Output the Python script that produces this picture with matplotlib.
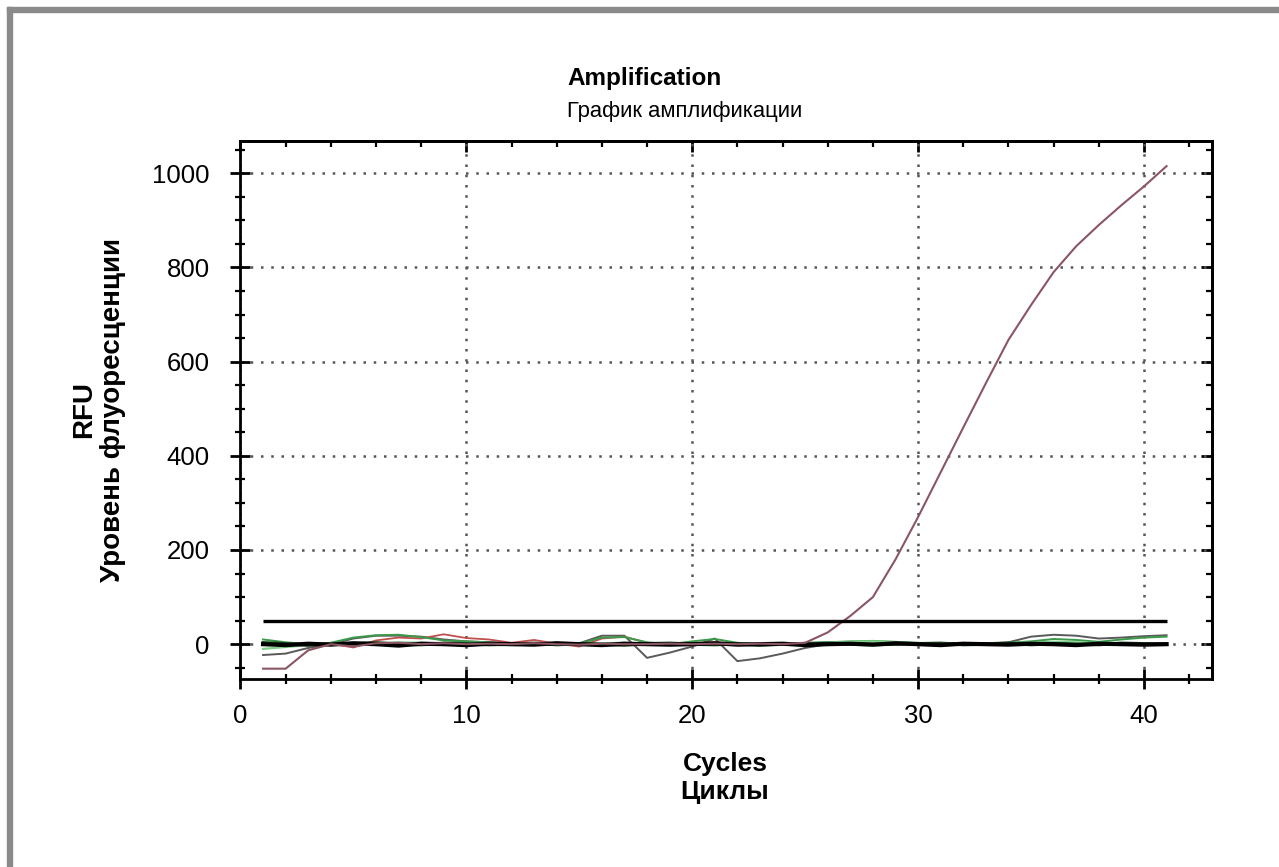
import matplotlib
matplotlib.use("Agg")
import matplotlib.pyplot as plt
from matplotlib.patches import Rectangle
from matplotlib.ticker import MultipleLocator

plt.rcParams["font.family"] = ["Liberation Sans", "DejaVu Sans"]

# data
cycles = list(range(1, 42))
threshold = 50

positive = [-52, -52, -13, 0, -5, 2, 3, 0, 2, 0, 1, 0, 2, 0, -1, 1, 0, 0, 1, 0,
            1, 0, 1, 0, 3, 25, 60, 100, 180, 270, 365, 460, 554, 646, 720, 790,
            845, 890, 932, 972, 1015]
noise_gray = [-23, -20, -8, 0, 12, 18, 18, 16, 10, 6, 4, 2, 1, 0, 2, 18, 18, -29,
              -18, -5, 12, -36, -30, -20, -8, 0, 2, 3, 2, 0, 1, 0, 2, 4, 16, 20,
              18, 12, 14, 17, 19]
noise_green = [10, 4, 0, 3, 14, 19, 20, 15, 8, 6, 4, 1, 2, -1, 1, 14, 15, 4, 0, 6,
               11, 3, 0, 1, 3, 4, 6, 7, 5, 3, 1, 2, 0, 3, 6, 11, 9, 5, 10, 14, 16]
noise_red = [2, -2, -3, 1, -7, 8, 14, 12, 21, 13, 10, 3, 9, 1, -5, 12, 16, 3, 1, 2,
             4, 1, 0, 2, 1, 0, 1, 2, 1, 0, 2, 1, 0, 1, 2, 3, 2, 1, 0, 1, 2]
base_a = [0, -2, 1, -1, 2, 0, -3, 1, 0, -2, 1, 0, -1, 2, 0, -2, 1, 0, -1, 0, 2,
          -1, 0, 1, -2, 0, 1, -1, 2, 0, -2, 1, 0, -1, 1, 0, -2, 1, 0, -1, 0]
base_b = [3, 1, -2, 0, 1, 3, 0, -1, 2, 1, -1, 0, 2, -1, 1, 0, -2, 1, 2, 0, -1,
          1, -2, 0, 1, 2, 0, -1, 0, 1, 2, -1, 0, 2, -1, 1, 0, -1, 2, 1, 0]
base_c = [-10, -6, -2, 1, 0, 2, 4, 3, 1, 2, 0, -2, 0, 1, -1, 2, 3, 1, -1, 0, 1,
          2, 0, -1, 1, 3, 5, 6, 4, 2, 0, -1, 1, 2, 3, 5, 4, 2, 1, 0, -1]

fig = plt.figure(figsize=(12.79, 8.67), dpi=100)
ax = fig.add_axes([0.188, 0.2168, 0.7594, 0.6209])
ax.set_axisbelow(True)

# gray frame of the screenshot
fig.patches.append(Rectangle((7 / 1279, 0), 5 / 1279, 1 - 7 / 867,
                             transform=fig.transFigure, color="#8a8a8a"))
fig.patches.append(Rectangle((7 / 1279, 1 - 12 / 867), 1, 5 / 867,
                             transform=fig.transFigure, color="#8a8a8a"))

ax.plot(cycles, noise_gray, color="#5a5a5a", lw=1.4)
ax.plot(cycles, noise_red, color="#c0504d", lw=1.3)
ax.plot(cycles, noise_green, color="#3a9a4a", lw=1.4)
ax.plot(cycles, base_c, color="#7fd08a", lw=1.6)
ax.plot(cycles, base_b, color="#163f1c", lw=2.4)
ax.plot(cycles, base_a, color="black", lw=3.0)
ax.plot(cycles, positive, color="#8b5563", lw=1.5)
ax.hlines(threshold, cycles[0], cycles[-1], color="black", lw=2.4)

ax.set_xlim(0, 43)
ax.set_ylim(-74, 1069)
ax.xaxis.set_major_locator(MultipleLocator(10))
ax.xaxis.set_minor_locator(MultipleLocator(2))
ax.yaxis.set_major_locator(MultipleLocator(200))
ax.yaxis.set_minor_locator(MultipleLocator(50))

ax.grid(which="major", color="#555555", linestyle=(0, (1, 3.1)), linewidth=1.8)
for s in ax.spines.values():
    s.set_linewidth(2)

ax.tick_params(which="major", direction="inout", length=14.4, width=2,
               labelsize=18.5, colors="black")
ax.tick_params(axis="x", which="major", pad=10.5)
ax.tick_params(axis="y", which="major", pad=15)
ax.tick_params(which="minor", direction="inout", length=7.2, width=1.6)

# inward ticks on top and right
top = ax.secondary_xaxis("top")
top.xaxis.set_major_locator(MultipleLocator(10))
top.xaxis.set_minor_locator(MultipleLocator(2))
top.tick_params(which="major", direction="in", length=8, width=2, labeltop=False)
top.tick_params(which="minor", direction="in", length=4.3, width=1.6)
top.spines["top"].set_linewidth(2)
right = ax.secondary_yaxis("right")
right.yaxis.set_major_locator(MultipleLocator(200))
right.yaxis.set_minor_locator(MultipleLocator(50))
right.tick_params(which="major", direction="in", length=8, width=2, labelright=False)
right.tick_params(which="minor", direction="in", length=4.3, width=1.6)
right.spines["right"].set_linewidth(2)

fig.text(567 / 1279, 1 - 79 / 867, "Amplification", fontsize=17.5,
         fontweight="bold", ha="left", va="center")
fig.text(567 / 1279, 1 - 112 / 867, "График амплификации", fontsize=15.8,
         ha="left", va="center")
fig.text(725 / 1279, 1 - 778 / 867, "Cycles\nЦиклы", fontsize=19,
         fontweight="bold", ha="center", va="center", linespacing=1.25)
fig.text(99 / 1279, 1 - 410 / 867, "RFU\nУровень флуоресценции", fontsize=20,
         fontweight="bold", ha="center", va="center", rotation=90,
         linespacing=1.15)

fig.savefig("out.png", dpi=100)
